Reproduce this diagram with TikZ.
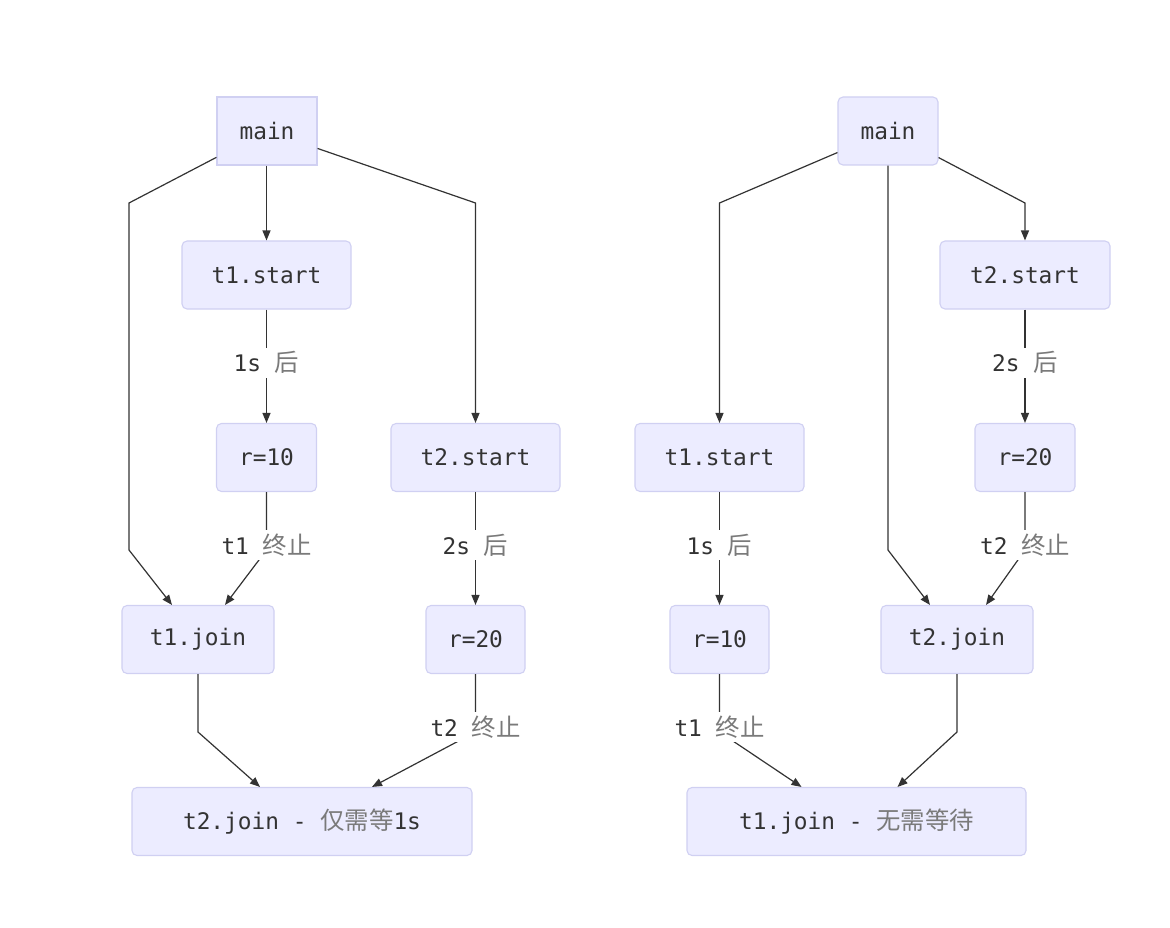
\documentclass[tikz,border=0pt]{standalone}
\usepackage{fontspec}
\setmonofont{DejaVu Sans Mono}
\newfontfamily\cjk[Scale=1.07]{Noto Sans CJK SC}
\usetikzlibrary{arrows.meta}
\definecolor{nodefill}{HTML}{ECECFF}
\definecolor{nodeline}{HTML}{D0D0F2}
\definecolor{ink}{HTML}{333333}
\definecolor{cjkgray}{HTML}{7A7A7A}
\newcommand{\zh}[1]{{\cjk\color{cjkgray}#1}}
\begin{document}
\begin{tikzpicture}[x=1pt,y=-1pt,
  every node/.style={font=\ttfamily\fontsize{22.8}{27}\selectfont, text=ink},
  box/.style={draw=nodeline, fill=nodefill, line width=1.1pt, rounded corners=5pt,
    minimum height=68pt, inner sep=0pt},
  sharpbox/.style={box, rounded corners=0pt},
  edge/.style={draw=ink, line width=1.2pt, -{Triangle[length=10pt,width=8pt]}},
  lbl/.style={fill=white, inner sep=2pt, minimum height=30pt}]
\useasboundingbox[fill=white] (0,0) rectangle (1170,928);

% ---------- left: t1 joined first ----------
\node[sharpbox, minimum width=100pt] (mainL) at (267,131) {main};
\node[box, minimum width=169pt] (s1L) at (266.5,275) {t1.start};
\node[box, minimum width=100pt] (r10L) at (266.5,457.5) {r=10};
\node[box, minimum width=169pt] (s2L) at (475.5,457.5) {t2.start};
\node[box, minimum width=152pt] (j1L) at (198,639.5) {t1.join};
\node[box, minimum width=99pt] (r20L) at (475.5,639.5) {r=20};
\node[box, minimum width=340pt] (j2L) at (302,821.5) {t2.join - \zh{仅需等}1s};

\coordinate (aL1) at (129,203);
\coordinate (aL2) at (129,550);
\coordinate (bL1) at (475.5,203);
\coordinate (cL1) at (266.5,550);
\coordinate (dL1) at (198,732);
\coordinate (eL1) at (475.5,732);

\draw[edge] (mainL.south -| s1L.north) -- (s1L);
\draw[edge] (mainL) -- (aL1) -- (aL2) -- ([xshift=-26pt]j1L.north);
\draw[edge] (mainL) -- (bL1) -- (s2L);
\draw[edge] (s1L) -- node[lbl,pos=0.47]{1s \zh{后}} (r10L);
\draw[edge] (r10L) -- node[lbl,pos=0.91]{t1 \zh{终止}} (cL1) -- ([xshift=27pt]j1L.north);
\draw[edge] (s2L) -- node[lbl,pos=0.47]{2s \zh{后}} (r20L);
\draw[edge] (j1L) -- (dL1) -- ([xshift=-42pt]j2L.north);
\draw[edge] (r20L) -- node[lbl,pos=0.91]{t2 \zh{终止}} (eL1) -- ([xshift=70pt]j2L.north);

% ---------- right: t2 joined first ----------
\node[box, minimum width=100pt] (mainR) at (888,131) {main};
\node[box, minimum width=170pt] (s2R) at (1025,275) {t2.start};
\node[box, minimum width=169pt] (s1R) at (719.5,457.5) {t1.start};
\node[box, minimum width=100pt] (r20R) at (1025,457.5) {r=20};
\node[box, minimum width=99pt] (r10R) at (719.5,639.5) {r=10};
\node[box, minimum width=152pt] (j2R) at (957,639.5) {t2.join};
\node[box, minimum width=339pt] (j1R) at (856.5,821.5) {t1.join - \zh{无需等待}};

\coordinate (aR1) at (719.5,203);
\coordinate (bR1) at (888,550);
\coordinate (cR1) at (1025,203);
\coordinate (dR1) at (1025,550);
\coordinate (eR1) at (719.5,732);
\coordinate (fR1) at (957,732);

\draw[edge] (mainR) -- (aR1) -- (s1R);
\draw[edge] (mainR.south) -- (bR1) -- ([xshift=-27pt]j2R.north);
\draw[edge] (mainR) -- (cR1) -- (s2R);
\draw[edge] (s2R) -- node[lbl,pos=0.47]{2s \zh{后}} (r20R);
\draw[edge] (s1R) -- node[lbl,pos=0.47]{1s \zh{后}} (r10R);
\draw[edge] (r20R) -- node[lbl,pos=0.91]{t2 \zh{终止}} (dR1) -- ([xshift=29pt]j2R.north);
\draw[edge] (r10R) -- node[lbl,pos=0.91]{t1 \zh{终止}} (eR1) -- ([xshift=-55pt]j1R.north);
\draw[edge] (j2R) -- (fR1) -- ([xshift=41pt]j1R.north);
\end{tikzpicture}
\end{document}
